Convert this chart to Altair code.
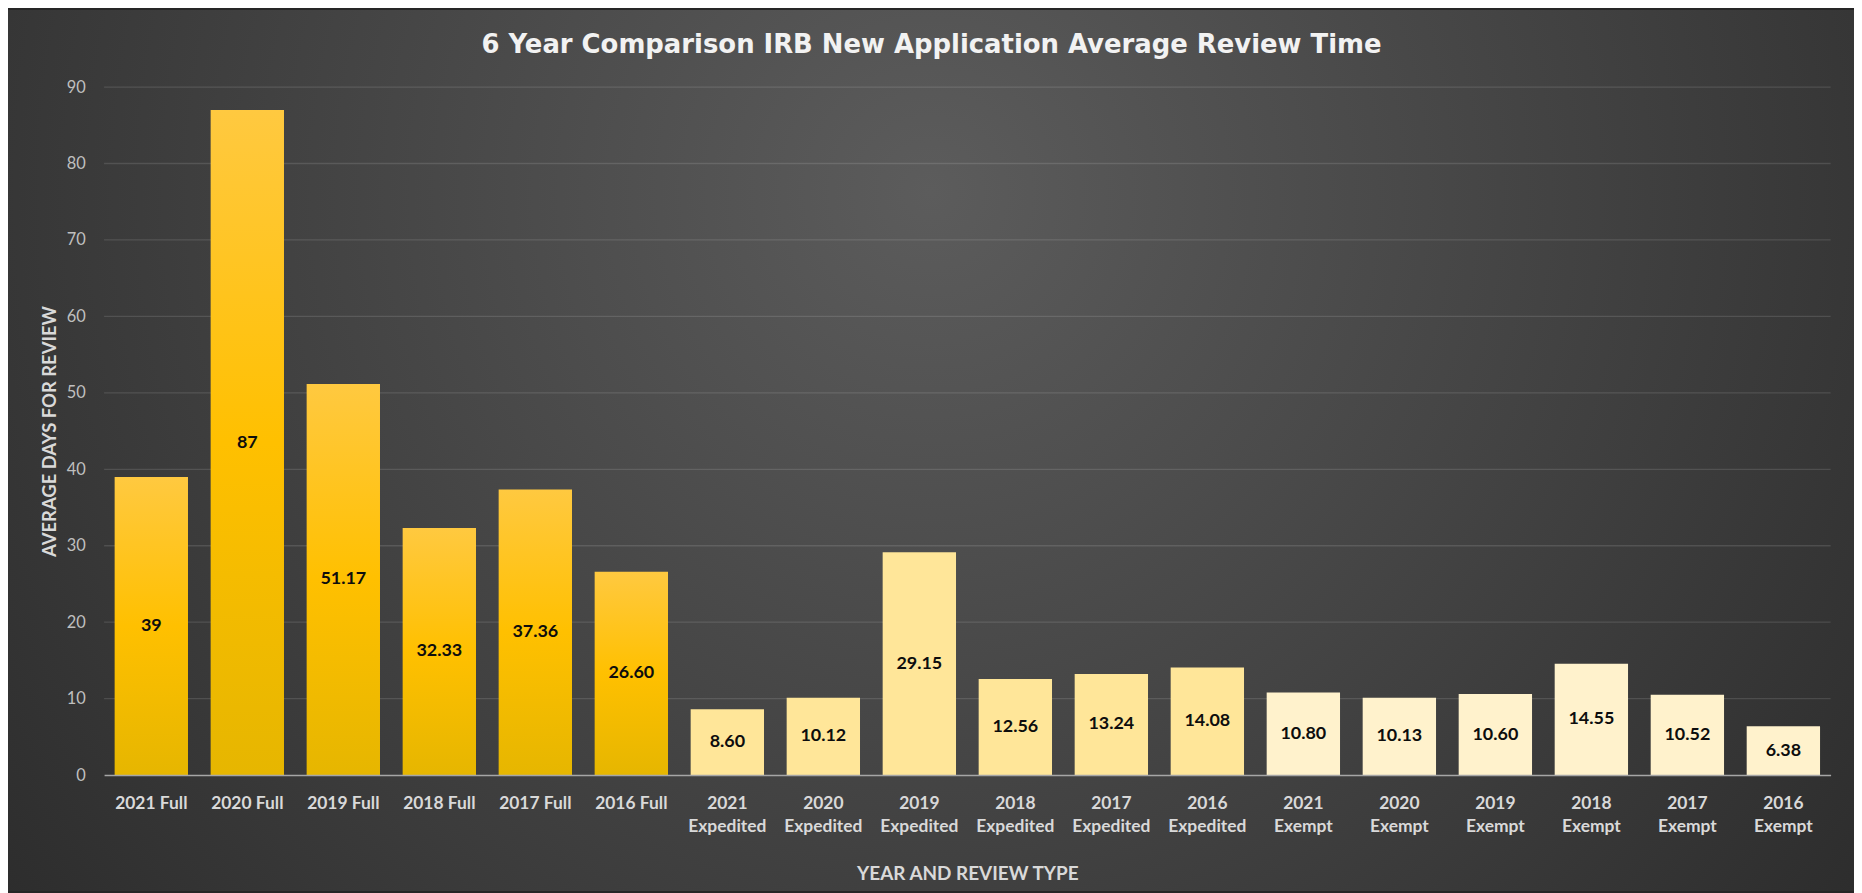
import altair as alt
import pandas as pd

title_text = "6 Year Comparison IRB New Application Average Review Time"
categories = [
    "2021 Full", "2020 Full", "2019 Full", "2018 Full", "2017 Full", "2016 Full",
    "2021 Expedited", "2020 Expedited", "2019 Expedited", "2018 Expedited", "2017 Expedited", "2016 Expedited",
    "2021 Exempt", "2020 Exempt", "2019 Exempt", "2018 Exempt", "2017 Exempt", "2016 Exempt",
]
types = ["Full"] * 6 + ["Expedited"] * 6 + ["Exempt"] * 6
values = [39, 87, 51.17, 32.33, 37.36, 26.60,
          8.60, 10.12, 29.15, 12.56, 13.24, 14.08,
          10.80, 10.13, 10.60, 14.55, 10.52, 6.38]
labels = ["39", "87", "51.17", "32.33", "37.36", "26.60",
          "8.60", "10.12", "29.15", "12.56", "13.24", "14.08",
          "10.80", "10.13", "10.60", "14.55", "10.52", "6.38"]
y_ticks = [0, 10, 20, 30, 40, 50, 60, 70, 80, 90]
grid_values = [10, 20, 30, 40, 50, 60, 70, 80, 90]

df = pd.DataFrame({"category": categories, "type": types, "value": values, "label": labels})
grid_df = pd.DataFrame({"value": grid_values})
bg_df = pd.DataFrame({"a": [0]})
title_df = pd.DataFrame({"title": [title_text]})

W, H = 1734, 691
PAD_L, PAD_T, PAD_R, PAD_B = 96.5, 77.5, 23.5, 116.5

x_axis = alt.Axis(
    title="YEAR AND REVIEW TYPE", labelAngle=0,
    labelExpr="indexof(datum.label, 'Full') >= 0 ? datum.label : split(datum.label, ' ')",
    labelFont="Lato", labelFontSize=17.5, labelFontWeight="bold", labelColor="#d9d9d9",
    labelPadding=20, labelLineHeight=23, labelOverlap=False, labelLimit=0,
    ticks=False, domainColor="#a6a6a6", domainWidth=1.5, grid=False,
    titleFont="Lato", titleFontSize=19, titleFontWeight="bold", titleColor="#d9d9d9",
    titleY=99, titleBaseline="middle", zindex=1,
)
y_axis = alt.Axis(
    title="AVERAGE DAYS FOR REVIEW", values=y_ticks, grid=False, domain=False, ticks=False,
    labelPadding=19, labelFont="Lato", labelFontSize=16.5, labelColor="#bfbfbf",
    titleFont="Lato", titleFontSize=18.5, titleFontWeight="bold", titleColor="#d9d9d9",
    titleX=-54.5, titleY=H / 2, titleBaseline="middle", zindex=1,
)
x_enc = alt.X("category:N", sort=categories,
              scale=alt.Scale(paddingInner=0.236, paddingOuter=0.11), axis=x_axis)
y_scale = alt.Scale(domain=[0, 90], nice=False)

bg = alt.Chart(bg_df).mark_rect(
    color=alt.RadialGradient(
        gradient="radial", x1=0.5, y1=0.36, x2=0.5, y2=0.36, r1=0, r2=0.75,
        stops=[alt.GradientStop(offset=0, color="#5c5c5c"),
               alt.GradientStop(offset=1, color="#242424")],
    )
).encode(
    x=alt.value(-PAD_L), x2=alt.value(W + PAD_R),
    y=alt.value(-PAD_T), y2=alt.value(H + PAD_B),
)

title = alt.Chart(title_df).mark_text(
    font="DejaVu Sans", fontSize=26, fontWeight="bold", color="#f2f2f2",
    align="center", baseline="middle",
).encode(x=alt.value(W / 2 - 36), y=alt.value(-42), text="title:N")

grid = alt.Chart(grid_df).mark_rule(color="#ffffff", opacity=0.12, strokeWidth=1.3).encode(
    y=alt.Y("value:Q", scale=y_scale, axis=y_axis)
)

full_bars = alt.Chart(df).transform_filter("datum.type == 'Full'").mark_bar(
    color=alt.LinearGradient(
        gradient="linear", x1=0, y1=0, x2=0, y2=1,
        stops=[alt.GradientStop(offset=0, color="#ffc940"),
               alt.GradientStop(offset=0.5, color="#ffc000"),
               alt.GradientStop(offset=1, color="#e6b600")],
    )
).encode(x=x_enc, y=alt.Y("value:Q", scale=y_scale, axis=y_axis))

other_bars = alt.Chart(df).transform_filter("datum.type != 'Full'").mark_bar().encode(
    x=x_enc,
    y=alt.Y("value:Q", scale=y_scale, axis=y_axis),
    color=alt.Color("type:N", scale=alt.Scale(domain=["Expedited", "Exempt"],
                                              range=["#ffe699", "#fff2cc"]), legend=None),
)

text = alt.Chart(df).transform_calculate(mid="datum.value / 2").mark_text(
    font="Lato", fontSize=18, fontWeight="bold", color="#0d0d0d", baseline="middle"
).encode(
    x=x_enc,
    y=alt.Y("mid:Q", scale=y_scale, axis=y_axis),
    text="label:N",
)

chart = alt.layer(bg, title, grid, full_bars, other_bars, text).properties(
    width=W, height=H,
    autosize=alt.AutoSizeParams(type="none"),
    padding={"left": PAD_L, "top": PAD_T, "right": PAD_R, "bottom": PAD_B},
    background="#262626",
).configure_view(stroke=None)

chart.save("out.html", embed_options={"renderer": "svg", "actions": False})
